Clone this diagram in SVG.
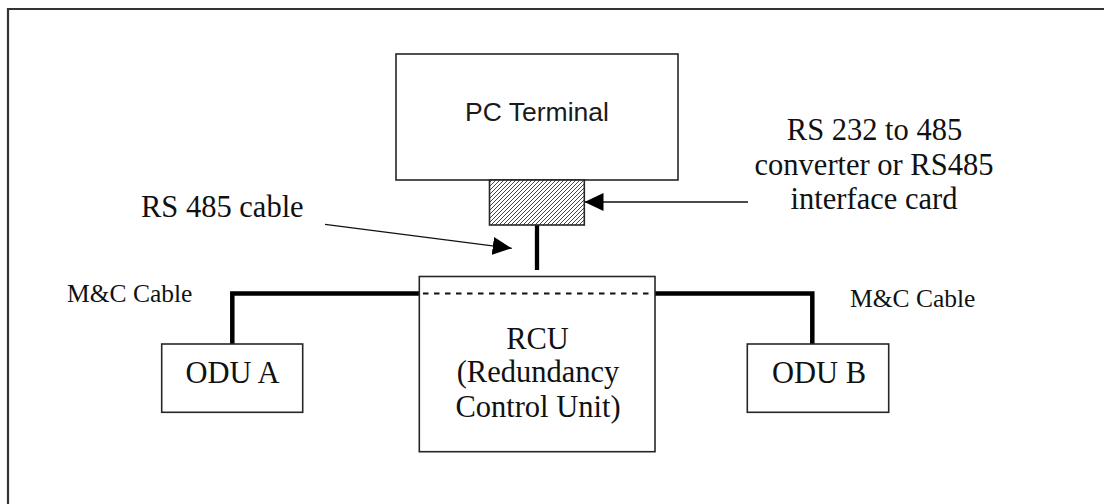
<svg xmlns="http://www.w3.org/2000/svg" width="1104" height="504" viewBox="0 0 1104 504">
<defs>
<style>
.box{fill:#fff;stroke:#262626;stroke-width:1.6}
.serif{font-family:"Liberation Serif","Times New Roman",serif;fill:#111}
.lbl{font-size:30.5px}
.small{font-size:25.5px}
.sans{font-family:"Liberation Sans",Arial,sans-serif;font-size:26.5px;fill:#1a1a1a}
.thick{fill:none;stroke:#000;stroke-width:4.5;stroke-linejoin:miter}
.thin{fill:none;stroke:#111;stroke-width:1.3}
</style>
<pattern id="hatch" patternUnits="userSpaceOnUse" width="4" height="4">
<rect width="4" height="4" fill="#fff"/>
<path d="M-1,1 L1,-1 M0,4 L4,0 M3,5 L5,3" stroke="#333" stroke-width="0.9"/>
</pattern>
<marker id="arr" markerUnits="userSpaceOnUse" markerWidth="20" markerHeight="20" refX="19" refY="9" orient="auto">
<path d="M0,0 L19,9 L0,18 z" fill="#000"/>
</marker>
</defs>
<rect width="1104" height="504" fill="#fff"/>
<path d="M8,504 V9 H1104" fill="none" stroke="#333" stroke-width="2.2"/>

<g id="connectors">
<path class="thick" d="M232.3,344 V293.5 H419.5"/>
<path class="thick" d="M655,293.5 H812.3 V344"/>
<path d="M537,225 V270" stroke="#000" stroke-width="4.3"/>
<rect x="535.5" y="278" width="3" height="4.5" fill="#000"/>
<rect x="535.5" y="289" width="3" height="4" fill="#000"/>
<path class="thin" d="M748,202 H584.5" marker-end="url(#arr)"/>
<path class="thin" d="M325,224.3 L511.7,248.3" marker-end="url(#arr)"/>
</g>

<g id="pc-terminal">
<rect class="box" x="396" y="54" width="282" height="126"/>
<text class="sans" x="537" y="121" text-anchor="middle">PC Terminal</text>
</g>

<g id="converter">
<rect x="489.5" y="180" width="94.8" height="45" fill="url(#hatch)" stroke="#262626" stroke-width="1.6"/>
</g>

<g id="rcu">
<rect class="box" x="419.3" y="276.5" width="235.7" height="175.2"/>
<path d="M423,293.6 H654" stroke="#111" stroke-width="2" stroke-dasharray="5.5 5.5"/>
<text class="serif lbl" x="537.5" y="348.5" text-anchor="middle">RCU</text>
<text class="serif lbl" x="538" y="382" text-anchor="middle">(Redundancy</text>
<text class="serif lbl" x="538" y="416.5" text-anchor="middle">Control Unit)</text>
</g>

<g id="odu-a">
<rect class="box" x="161.7" y="344" width="141" height="68.3"/>
<text class="serif lbl" x="232.5" y="383.3" text-anchor="middle">ODU A</text>
</g>

<g id="odu-b">
<rect class="box" x="747.3" y="344" width="141.4" height="68.3"/>
<text class="serif lbl" x="819" y="382.7" text-anchor="middle">ODU B</text>
</g>

<g id="labels">
<text class="serif lbl" x="874.5" y="140" text-anchor="middle">RS 232 to 485</text>
<text class="serif lbl" x="874" y="174.5" text-anchor="middle">converter or RS485</text>
<text class="serif lbl" x="874" y="209" text-anchor="middle">interface card</text>
<text class="serif lbl" x="141" y="216.7">RS 485 cable</text>
<text class="serif small" x="67" y="302.3">M&amp;C Cable</text>
<text class="serif small" x="850" y="306.7">M&amp;C Cable</text>
</g>
</svg>
